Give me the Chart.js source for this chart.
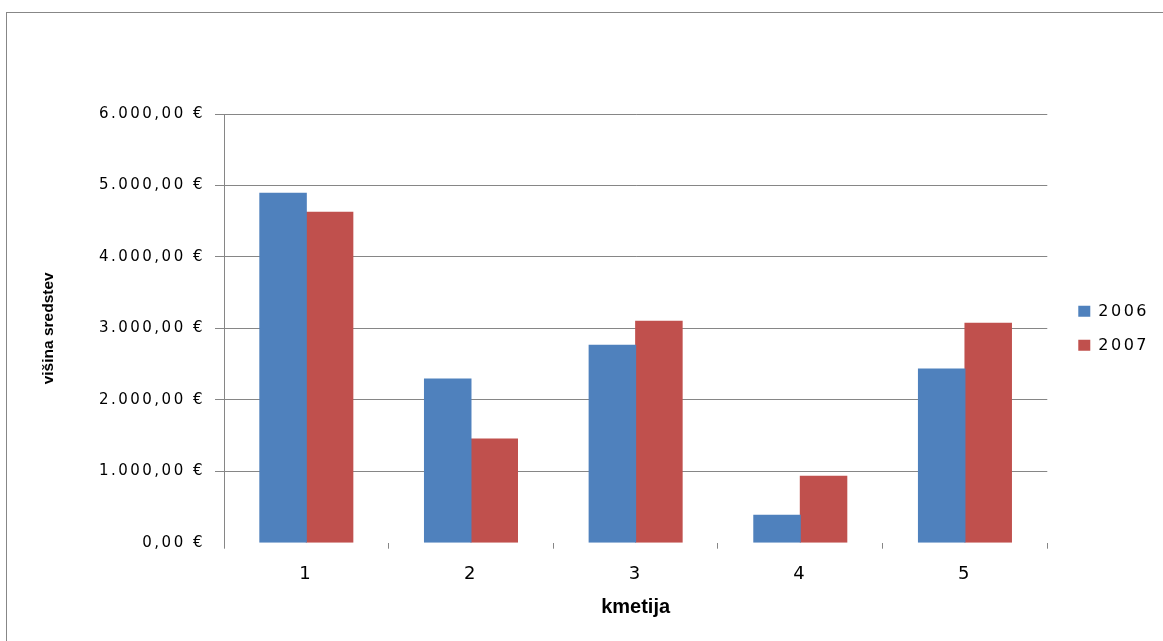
<!DOCTYPE html>
<html>
<head>
<meta charset="utf-8">
<script src="https://cdn.jsdelivr.net/npm/chart.js@4/dist/chart.umd.min.js"></script>
<style>
  html, body { margin: 0; padding: 0; background: #ffffff; overflow: hidden; }
  #frame { position: absolute; left: 6px; top: 12px; width: 2000px; height: 2000px; border: 1px solid #878787; box-sizing: border-box; }
  #wrap { position: absolute; left: 0; top: 0; width: 1163px; height: 641px; }
</style>
</head>
<body>
<div id="frame"></div>
<div id="wrap"><canvas id="c"></canvas></div>
<script>
const categories = ['1', '2', '3', '4', '5'];
const seriesNames = ['2006', '2007'];
const values2006 = [4890, 2290, 2765, 385, 2430];
const values2007 = [4625, 1450, 3100, 930, 3070];
const yTickLabels = ['0,00 €', '1.000,00 €', '2.000,00 €', '3.000,00 €', '4.000,00 €', '5.000,00 €', '6.000,00 €'];
const yTitle = 'višina sredstev';
const xTitle = 'kmetija';

const GRAY = '#868686';

const spacingPlugin = {
  id: 'spacing',
  beforeUpdate(chart) { chart.ctx.letterSpacing = '0px'; },
  afterLayout(chart) {
    chart._layers.push({ z: -0.5, _idx: 9999, draw() { chart.ctx.letterSpacing = '2.5px'; } });
    chart._layers.sort((a, b) => (a.z - b.z) || (a._idx - b._idx));
  },
  beforeDraw(chart) { chart.ctx.letterSpacing = '0px'; },
  afterDraw(chart) { chart.ctx.letterSpacing = '0px'; }
};

new Chart(document.getElementById('c'), {
  type: 'bar',
  data: {
    labels: categories,
    datasets: [
      { label: seriesNames[0], data: values2006, backgroundColor: '#4F81BD', borderWidth: 0, inflateAmount: 0.5 },
      { label: seriesNames[1], data: values2007, backgroundColor: '#C0504D', borderWidth: 0, inflateAmount: 0.5 }
    ]
  },
  options: {
    responsive: true,
    maintainAspectRatio: false,
    animation: false,
    events: [],
    layout: { padding: { top: 114, left: 0, right: 14, bottom: 0 } },
    datasets: { bar: { categoryPercentage: 0.565, barPercentage: 1.0 } },
    scales: {
      x: {
        grid: { display: true, drawOnChartArea: false, drawTicks: true, tickLength: 6, offset: true, color: GRAY, tickColor: GRAY },
        border: { display: false },
        ticks: { color: '#000', padding: 15, font: { family: 'DejaVu Sans', size: 18 } },
        title: { display: true, text: xTitle, color: '#000', font: { family: 'Liberation Sans', size: 20, weight: 'bold' }, padding: { top: 0, bottom: 22 } },
        afterFit(s) { s.height = 98.3; }
      },
      y: {
        min: 0, max: 6000,
        ticks: { stepSize: 1000, color: '#000', padding: 10, font: { family: 'DejaVu Sans', size: 15 },
          callback: (v) => yTickLabels[Math.round(v / 1000)] },
        grid: { color: (c) => (c.tick && c.tick.value === 0) ? 'rgba(0,0,0,0)' : GRAY, tickLength: 9, lineWidth: 1 },
        border: { display: true, color: GRAY, width: 1 },
        title: { display: true, text: yTitle, color: '#000', font: { family: 'Liberation Sans', size: 15.5, weight: 'bold' }, padding: { top: 39, bottom: 0 } },
        afterFit(s) { s.width = 224; }
      },
      gap: {
        type: 'linear', position: 'right', display: true,
        grid: { display: false }, ticks: { display: false }, border: { display: false },
        afterFit(s) { s.width = 13; }
      }
    },
    plugins: {
      tooltip: { enabled: false },
      legend: {
        position: 'right', align: 'center', fullSize: false,
        labels: { boxWidth: 12, boxHeight: 11, padding: 18, color: '#000', font: { family: 'DejaVu Sans', size: 16 } }
      }
    }
  },
  plugins: [spacingPlugin]
});
</script>
</body>
</html>
